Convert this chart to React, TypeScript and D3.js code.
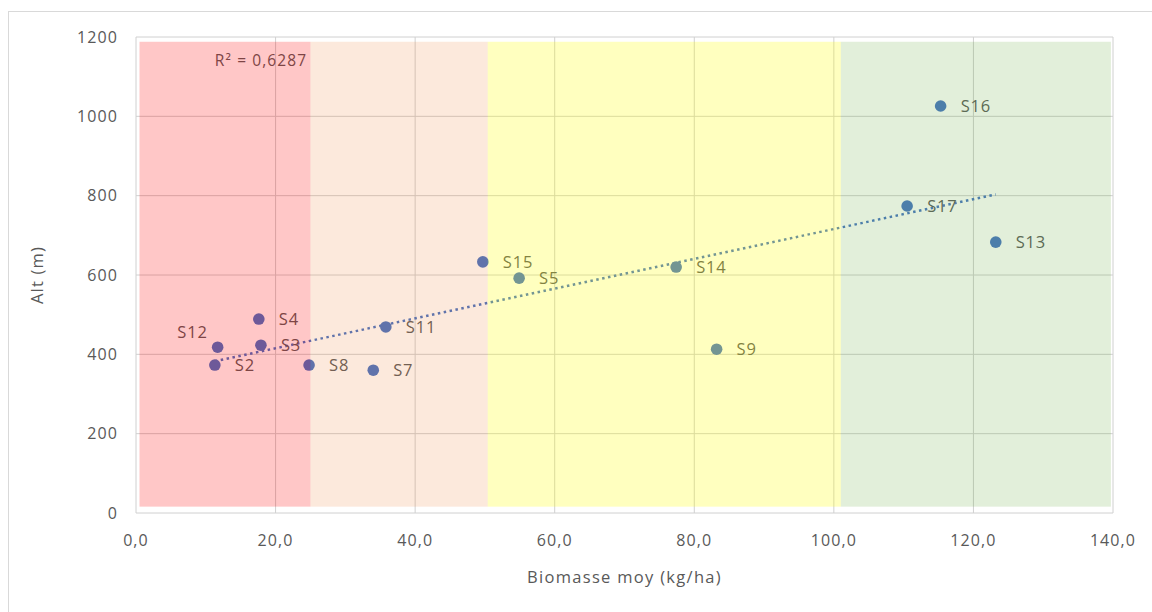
import React from "react";
import * as d3 from "d3";

const siteNames = ["S12", "S4", "S3", "S2", "S8", "S7", "S11", "S15", "S5", "S14", "S9", "S16", "S17", "S13"];
const biomasse = [11.7, 17.6, 17.9, 11.3, 24.8, 34.0, 35.8, 49.7, 54.9, 77.4, 83.2, 115.3, 110.5, 123.2];
const altitude = [418, 489, 423, 373, 373, 360, 469, 633, 592, 620, 413, 1026, 774, 683];

const bandStarts = [0.5, 25, 50.4, 101];
const bandEnds = [25, 50.4, 101, 139.7];
const bandColors = ["#ff0000", "#ed7d31", "#ffff00", "#70ad47"];
const bandOpacity = [0.22, 0.17, 0.25, 0.2];
const bandBottom = 16;
const bandTop = 1188;

const xTicks = [0, 20, 40, 60, 80, 100, 120, 140];
const yTicks = [0, 200, 400, 600, 800, 1000, 1200];
const r2Text = "R² = 0,6287";
const xTitle = "Biomasse moy (kg/ha)";
const yTitle = "Alt (m)";

const W = 1152;
const H = 612;
const m = { left: 136, right: 1113, top: 37, bottom: 513 };
const FONT = "'Open Sans', sans-serif";
const TXT = "#595959";

export default function App() {
  const x = d3.scaleLinear().domain([0, 140]).range([m.left, m.right]);
  const y = d3.scaleLinear().domain([0, 1200]).range([m.bottom, m.top]);
  const fmtX = (v: number) => d3.format(".1f")(v).replace(".", ",");

  // linear regression
  const mx = d3.mean(biomasse) as number;
  const my = d3.mean(altitude) as number;
  let sxy = 0, sxx = 0;
  biomasse.forEach((v, i) => { sxy += (v - mx) * (altitude[i] - my); sxx += (v - mx) ** 2; });
  const slope = sxy / sxx;
  const icpt = my - slope * mx;
  const [xmin, xmax] = d3.extent(biomasse) as [number, number];
  const trend = d3.line<number>().x((v) => x(v)).y((v) => y(icpt + slope * v));

  return (
    <svg width={W} height={H} style={{ position: "absolute", left: 0, top: 0, background: "#fff" }}>
      <rect x={8.5} y={11.5} width={W} height={H} fill="#fff" stroke="#d9d9d9" strokeWidth={1} />
      {/* gridlines */}
      {yTicks.map((t) => (
        <line key={"gy" + t} x1={m.left} x2={m.right} y1={y(t)} y2={y(t)} stroke="#d0d0d0" strokeWidth={1} />
      ))}
      {xTicks.map((t) => (
        <line key={"gx" + t} x1={x(t)} x2={x(t)} y1={m.top} y2={m.bottom} stroke="#d0d0d0" strokeWidth={1} />
      ))}
      {/* trendline */}
      <path d={trend([xmin, xmax]) as string} fill="none" stroke="#4472c4" strokeWidth={2.5} strokeDasharray="2.5 3.5" />
      {/* points */}
      {biomasse.map((v, i) => (
        <circle key={"p" + i} cx={x(v)} cy={y(altitude[i])} r={5.8} fill="#4472c4" />
      ))}
      {/* labels */}
      {biomasse.map((v, i) => {
        const left = siteNames[i] === "S12";
        return (
          <text
            key={"l" + i}
            x={left ? x(v) - 10 : x(v) + 20}
            y={left ? y(altitude[i]) - 15 : y(altitude[i])}
            dy="0.35em"
            textAnchor={left ? "end" : "start"}
            fontFamily={FONT}
            fontSize={16.5}
            letterSpacing={0.8}
            fill={TXT}
          >
            {siteNames[i]}
          </text>
        );
      })}
      <text x={x(11.3)} y={y(1140)} dy="0.35em" fontFamily={FONT} fontSize={15.5} letterSpacing={1.1} fill={TXT}>
        {r2Text}
      </text>
      {/* bands overlay */}
      {bandStarts.map((s, i) => (
        <rect
          key={"b" + i}
          x={x(s)}
          width={x(bandEnds[i]) - x(s)}
          y={y(bandTop)}
          height={y(bandBottom) - y(bandTop)}
          fill={bandColors[i]}
          fillOpacity={bandOpacity[i]}
        />
      ))}
      {/* axis tick labels */}
      {yTicks.map((t) => (
        <text key={"ty" + t} x={118} y={y(t)} dy="0.35em" textAnchor="end" fontFamily={FONT} fontSize={16} letterSpacing={1.1} fill={TXT}>
          {t}
        </text>
      ))}
      {xTicks.map((t) => (
        <text key={"tx" + t} x={x(t)} y={540} dy="0.35em" textAnchor="middle" fontFamily={FONT} fontSize={16} letterSpacing={1.1} fill={TXT}>
          {fmtX(t)}
        </text>
      ))}
      <text x={(m.left + m.right) / 2 + 0} y={577} dy="0.35em" textAnchor="middle" fontFamily={FONT} fontSize={16.5} letterSpacing={1.3} fill={TXT}>
        {xTitle}
      </text>
      <text
        transform={`translate(37, ${(m.top + m.bottom) / 2}) rotate(-90)`}
        dy="0.35em"
        textAnchor="middle"
        fontFamily={FONT}
        fontSize={16.5}
        letterSpacing={1.2}
        fill={TXT}
      >
        {yTitle}
      </text>
    </svg>
  );
}
